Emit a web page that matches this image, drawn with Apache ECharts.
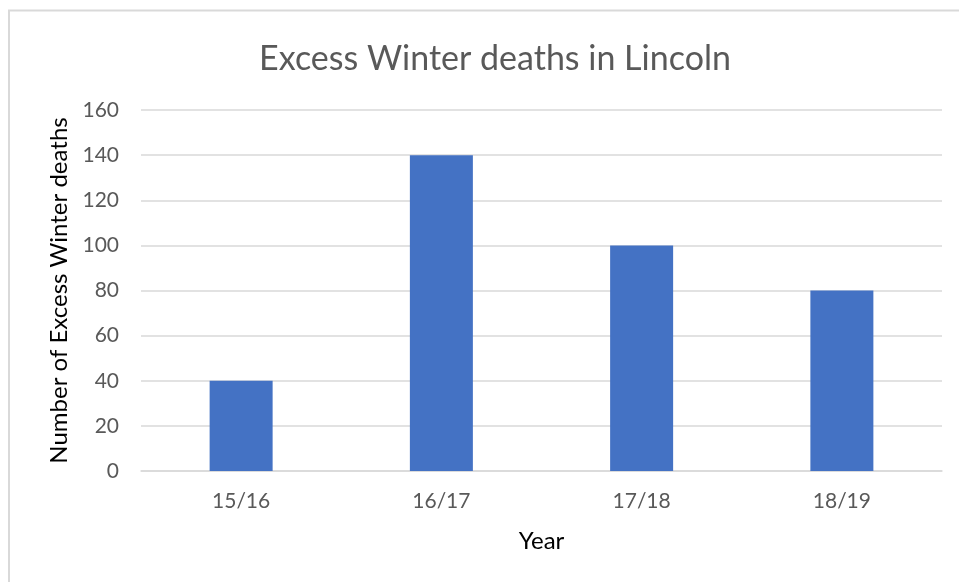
<!DOCTYPE html>
<html>
<head>
<meta charset="utf-8">
<script src="https://cdn.jsdelivr.net/npm/echarts@6/dist/echarts.min.js"></script>
<style>
  html, body { margin: 0; padding: 0; background: #fff; }
  #chart { width: 959px; height: 582px; }
</style>
</head>
<body>
<div id="chart"></div>
<script>
'use strict';
const years = ['15/16', '16/17', '17/18', '18/19'];
const deaths = [40, 140, 100, 80];
const yTicks = [0, 20, 40, 60, 80, 100, 120, 140, 160];

const FONT = 'Lato, "Open Sans", "Noto Sans", sans-serif';
const GREY = '#595959';

const chart = echarts.init(document.getElementById('chart'));
chart.setOption({
    animation: false,
    graphic: [{
        type: 'rect',
        shape: { x: 9, y: 10.5, width: 1000, height: 1000 },
        style: { fill: 'none', stroke: '#d9d9d9', lineWidth: 2 }
    }],
    title: {
        text: 'Excess Winter deaths in Lincoln',
        left: 490,
        textAlign: 'center',
        top: 37,
        textStyle: { fontFamily: FONT, fontSize: 34, fontWeight: 'normal', color: GREY }
    },
    grid: { left: 141, right: 17, top: 110, bottom: 111, containLabel: false },
    xAxis: {
        type: 'category',
        data: years,
        name: 'Year',
        nameLocation: 'middle',
        nameGap: 58,
        nameTextStyle: { fontFamily: FONT, fontSize: 24, color: '#000' },
        axisLine: { lineStyle: { color: '#d9d9d9', width: 1.5 } },
        axisTick: { show: false },
        axisLabel: { fontFamily: FONT, fontSize: 21, color: GREY, margin: 20 }
    },
    yAxis: {
        type: 'value',
        min: yTicks[0],
        max: yTicks[yTicks.length - 1],
        interval: 20,
        name: 'Number of Excess Winter deaths',
        nameLocation: 'middle',
        nameGap: 61,
        nameTextStyle: { fontFamily: FONT, fontSize: 24, color: '#000' },
        axisLine: { show: false },
        axisTick: { show: false },
        axisLabel: { fontFamily: FONT, fontSize: 21, color: GREY, margin: 22 },
        splitLine: { lineStyle: { color: '#d9d9d9', width: 1.5 } }
    },
    series: [{
        type: 'bar',
        data: deaths,
        barWidth: 63,
        itemStyle: { color: '#4472c4' }
    }]
});
</script>
</body>
</html>
